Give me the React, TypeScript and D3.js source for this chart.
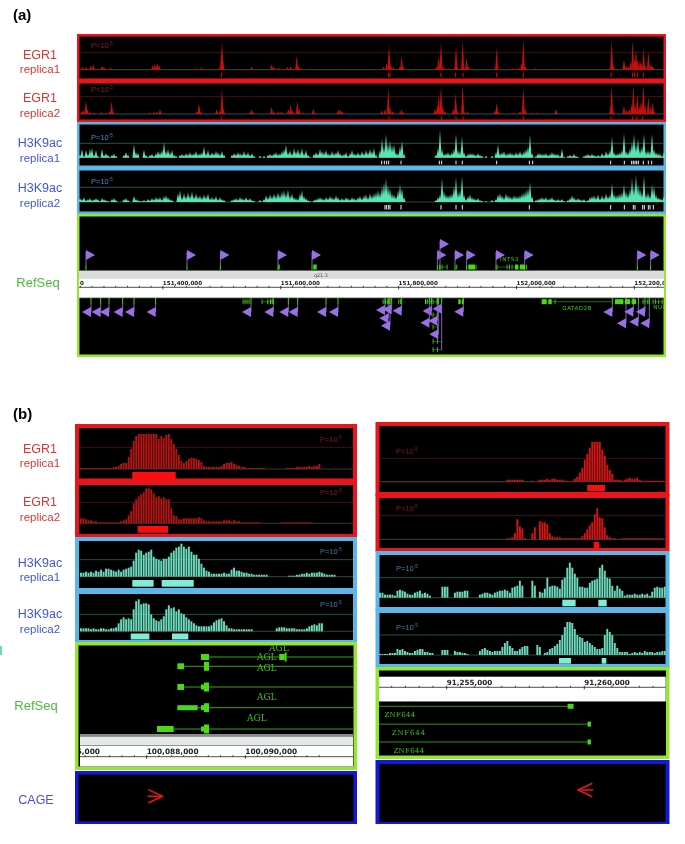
import * as d3 from "d3";

// ---- colours
const RED = "#e8171b";
const SKY = "#5cb6ea";
const LIME = "#94e62e";
const DEEP = "#1616d8";
const MINT = "#5ae4b6";
const BAR_MINT = "#6cd8bc";
const GENE = "#49d916";
const FLAG = "#9a6fe6";

// ---- panel (a): peaks are [bin, score], one bin is about 567 bp
const A_EGR1: number[][] = [
  [248, 8], [258, 8], [272, 12], [280, 16], [306, 12], [312, 8], [332, 6], [458, 14], [465, 18], [472, 20], [478, 14],
  [590, 4], [605, 6], [658, 6], [664, 50], [666, 88], [669, 30], [755, 8], [815, 16], [822, 8], [835, 6], [862, 8],
  [872, 10], [890, 42], [896, 10], [905, 4], [935, 3], [1015, 2], [1150, 8], [1160, 20], [1167, 76], [1172, 14],
  [1180, 8], [1200, 10], [1205, 40], [1210, 8], [1310, 8], [1316, 38], [1323, 84], [1330, 8], [1345, 4], [1365, 6],
  [1368, 70], [1372, 8], [1385, 6], [1388, 88], [1392, 8], [1400, 34], [1405, 10], [1485, 4], [1490, 66], [1494, 4],
  [1540, 4], [1555, 6], [1565, 20], [1570, 90], [1576, 10], [1605, 4], [1665, 2], [1675, 2], [1832, 8], [1835, 88],
  [1840, 12], [1872, 32], [1878, 12], [1885, 10], [1892, 24], [1898, 88], [1904, 34], [1908, 60], [1913, 30],
  [1920, 30], [1925, 20], [1931, 62], [1936, 12], [1945, 54], [1953, 18], [1958, 10],
];
const A_EGR2: number[][] = [
  [245, 8], [250, 12], [258, 40], [262, 14], [270, 6], [282, 4], [305, 5], [320, 4], [330, 10], [335, 38], [340, 6],
  [450, 4], [462, 6], [470, 6], [480, 14], [590, 8], [597, 32], [603, 6], [650, 14], [660, 10], [666, 78], [670, 18],
  [750, 6], [755, 14], [760, 4], [815, 22], [822, 6], [835, 6], [845, 6], [865, 14], [872, 28], [878, 10], [892, 38],
  [898, 14], [910, 4], [940, 16], [945, 4], [1015, 14], [1022, 12], [1028, 5], [1145, 10], [1155, 14], [1165, 78],
  [1170, 20], [1178, 8], [1200, 6], [1205, 14], [1210, 4], [1305, 14], [1312, 28], [1316, 58], [1323, 87], [1328, 24],
  [1335, 8], [1360, 14], [1367, 62], [1372, 10], [1388, 88], [1392, 8], [1403, 6], [1485, 10], [1490, 34], [1496, 6],
  [1540, 4], [1560, 8], [1570, 78], [1576, 14], [1595, 4], [1610, 4], [1668, 14], [1832, 22], [1835, 88], [1840, 10],
  [1872, 24], [1880, 12], [1888, 14], [1895, 30], [1900, 88], [1905, 30], [1912, 60], [1918, 24], [1923, 40],
  [1930, 90], [1935, 30], [1945, 52], [1952, 22], [1958, 34], [1962, 10],
];
const A_EGR1_CALLS = [665, 1165, 1170, 1323, 1367, 1389, 1490, 1570, 1833, 1898, 1904, 1913, 1931];
const A_EGR2_CALLS = [665, 1167, 1324, 1368, 1389, 1570, 1833, 1898, 1910, 1928];
const A_H3_CALLS1 = [1145, 1153, 1160, 1166, 1203, 1318, 1325, 1368, 1387, 1490, 1588, 1598, 1832, 1873, 1895, 1900, 1905, 1910, 1915, 1930, 1945, 1955];
const A_H3_CALLS2 = [1155, 1160, 1166, 1170, 1203, 1323, 1368, 1387, 1588, 1832, 1873, 1900, 1905, 1928, 1933, 1945, 1950, 1960];

// one value every 6 bins from bin 240
const A_H3K1 = [
  3, 9, 2, 8, 4, 9, 10, 3, 8, 2, 0, 9, 3, 5, 3, 1, 3, 4, 2, 0, 0, 0, 3, 6, 3, 0, 0, 14, 6, 5,
  0, 0, 8, 3, 1, 3, 4, 2, 5, 7, 6, 8, 16, 7, 9, 6, 8, 3, 2, 0, 3, 4, 3, 5, 4, 6, 4, 5, 7, 4,
  5, 6, 12, 5, 8, 4, 6, 5, 7, 6, 4, 7, 3, 0, 0, 0, 3, 5, 4, 6, 5, 4, 7, 4, 6, 3, 5, 2, 0, 0,
  2, 0, 2, 0, 3, 4, 3, 5, 6, 4, 5, 7, 9, 14, 6, 8, 5, 10, 7, 9, 6, 10, 5, 8, 3, 1, 0, 4, 6, 5,
  9, 7, 6, 8, 5, 4, 7, 5, 6, 8, 5, 3, 4, 6, 2, 5, 8, 5, 4, 6, 4, 7, 5, 8, 6, 9, 7, 10, 3, 0,
  8, 20, 12, 25, 15, 18, 13, 14, 6, 5, 12, 18, 4, 0, 0, 0, 0, 0, 0, 0, 0, 0, 0, 0, 0, 0, 0, 0, 3, 10,
  29, 9, 4, 5, 6, 4, 6, 9, 25, 8, 7, 22, 6, 2, 4, 5, 5, 4, 3, 5, 3, 2, 0, 2, 0, 0, 2, 0, 6, 14,
  5, 6, 7, 4, 5, 6, 5, 4, 6, 5, 7, 5, 7, 9, 12, 24, 5, 0, 2, 5, 5, 4, 4, 5, 3, 4, 6, 5, 4, 4,
  2, 9, 1, 0, 2, 3, 2, 4, 2, 1, 0, 0, 2, 3, 4, 3, 4, 3, 2, 3, 2, 5, 3, 7, 5, 8, 22, 6, 4, 5,
  6, 8, 26, 7, 6, 10, 17, 25, 14, 20, 9, 12, 25, 7, 8, 7, 25, 9, 6, 5, 4, 2, 6,
];
const A_H3K2 = [
  4, 3, 5, 2, 3, 4, 2, 3, 4, 3, 1, 4, 3, 2, 1, 0, 3, 4, 2, 0, 0, 0, 3, 4, 2, 0, 0, 6, 3, 2,
  1, 1, 2, 1, 3, 2, 4, 3, 5, 4, 5, 3, 6, 7, 5, 3, 2, 0, 0, 9, 12, 5, 9, 6, 10, 7, 11, 6, 9, 6,
  7, 5, 8, 6, 9, 4, 5, 4, 6, 3, 5, 3, 2, 0, 0, 0, 2, 3, 4, 3, 5, 4, 3, 5, 3, 4, 2, 1, 0, 0,
  2, 0, 3, 7, 5, 8, 6, 9, 7, 10, 8, 11, 12, 9, 13, 7, 9, 5, 4, 3, 9, 12, 6, 4, 2, 1, 0, 2, 3, 4,
  5, 4, 3, 5, 4, 6, 5, 4, 7, 5, 3, 4, 3, 5, 4, 3, 5, 4, 3, 5, 6, 4, 7, 8, 5, 9, 7, 9, 10, 12,
  10, 16, 20, 24, 17, 14, 9, 8, 6, 12, 18, 14, 5, 0, 0, 0, 0, 0, 0, 0, 0, 0, 0, 0, 0, 0, 0, 0, 2, 5,
  8, 24, 11, 8, 7, 8, 9, 16, 25, 10, 12, 26, 8, 3, 6, 8, 5, 4, 3, 4, 2, 1, 0, 1, 0, 0, 2, 0, 3, 8,
  9, 7, 5, 9, 7, 6, 5, 7, 6, 6, 7, 9, 10, 12, 14, 20, 6, 0, 2, 3, 4, 5, 4, 5, 3, 4, 5, 3, 2, 3,
  2, 3, 1, 0, 2, 4, 7, 5, 3, 4, 3, 2, 3, 1, 2, 5, 6, 7, 5, 8, 4, 7, 5, 9, 6, 8, 19, 9, 7, 8,
  9, 10, 18, 11, 9, 14, 24, 16, 28, 18, 14, 10, 27, 8, 10, 7, 18, 16, 8, 5, 4, 3, 6,
];

// genes in panel (a): start, end and exons in bins, lane above or below the ruler
const A_UP_FLAGS: number[][] = [
  [258, 0], [561, 0], [661, 0], [834, 0], [936, 0], [1312, 0], [1320, 1], [1365, 0], [1400, 0], [1488, 0], [1574, 0], [1912, 0], [1952, 0],
];
const A_DOWN_FLAGS: number[][] = [
  [273, 0.86], [302, 0.86], [327, 0.86], [368, 0.86], [402, 0.86], [467, 0.86], [753, 0.86], [820, 0.86], [865, 0.86],
  [893, 0.86], [978, 0.86], [1014, 0.86], [1155, 0.69], [1165, 1.38], [1170, 2], [1175, 0.63], [1205, 0.75], [1295, 0.78],
  [1288, 1.75], [1312, 1.58], [1325, 0.58], [1315, 2.72], [1390, 0.83], [1837, 0.86], [1878, 1.8], [1900, 0.83],
  [1915, 1.67], [1935, 0.83], [1948, 1.8],
];
const A_UP_GENES: { span: number[]; exons: number[][] }[] = [
  { span: [835, 840], exons: [[835, 839]] },
  { span: [940, 950], exons: [[940, 950]] },
  { span: [1318, 1342], exons: [[1318, 1320], [1325, 1327], [1340, 1342]] },
  { span: [1369, 1371], exons: [[1369, 1371]] },
  { span: [1405, 1428], exons: [[1405, 1425], [1427, 1429]] },
  { span: [1490, 1580], exons: [[1490, 1492], [1520, 1522], [1527, 1529], [1535, 1537], [1545, 1555], [1560, 1575], [1578, 1580]] },
];
const A_DOWN_GENES: { span: number[]; lane: number; exons: number[][] }[] = [
  { span: [728, 748], lane: 0, exons: [[728, 730], [734, 736], [740, 742], [746, 748]] },
  { span: [785, 820], lane: 0, exons: [[785, 787], [802, 805], [810, 814], [817, 820]] },
  { span: [1148, 1170], lane: 0, exons: [[1148, 1150], [1155, 1157], [1162, 1164], [1168, 1170]] },
  { span: [1195, 1202], lane: 0, exons: [[1195, 1197], [1200, 1202]] },
  { span: [1275, 1295], lane: 0, exons: [[1275, 1278], [1280, 1283], [1292, 1295]] },
  { span: [1298, 1312], lane: 0, exons: [[1298, 1300], [1310, 1312]] },
  { span: [1375, 1390], lane: 0, exons: [[1375, 1382], [1386, 1390]] },
  { span: [1625, 1835], lane: 0, exons: [[1625, 1640], [1645, 1655], [1664, 1666]] },
  { span: [1845, 1910], lane: 0, exons: [[1845, 1870], [1875, 1890], [1895, 1908]] },
  { span: [1925, 1945], lane: 0, exons: [[1928, 1930], [1942, 1945]] },
  { span: [1958, 1990], lane: 0, exons: [[1958, 1960], [1965, 1967], [1975, 1977], [1985, 1987]] },
  { span: [1298, 1312], lane: 1.1, exons: [[1298, 1299], [1311, 1312]] },
  { span: [1298, 1312], lane: 2.1, exons: [[1298, 1299], [1311, 1312]] },
  { span: [1298, 1325], lane: 3.3, exons: [[1298, 1299], [1311, 1312]] },
  { span: [1298, 1325], lane: 4, exons: [[1298, 1299], [1311, 1312]] },
];
const A_TEXTS: { label: string; bin: number; lane: number }[] = [
  { label: "INTS3", bin: 1500, lane: -3.5 },
  { label: "GATAD2B", bin: 1687, lane: 0.53 },
  { label: "NUP", bin: 1960, lane: 0.5 },
];

// ---- panel (b) left: heights, one bar every 2.5 px of window
const BL_EGR1 = [
  1, 1, 1, 1, 1, 1, 1, 1, 1, 1, 1, 1, 1, 2, 2, 3, 5, 6, 6, 12, 20, 28, 33, 35, 35, 35, 35, 35, 35, 35, 35, 30, 33, 31,
  34, 35, 30, 25, 20, 14, 8, 6, 8, 10, 11, 11, 10, 9, 7, 3, 2, 2, 2, 2, 2, 2, 3, 5, 6, 6, 7, 5, 4, 3, 2, 2, 1, 1, 1, 1,
  1, 1, 1, 1, 0, 0, 0, 0, 0, 0, 0, 0, 1, 1, 1, 1, 2, 2, 2, 2, 2, 3, 2, 3, 3, 5,
];
const BL_EGR2 = [
  5, 5, 4, 3, 3, 2, 2, 1, 1, 1, 1, 1, 1, 1, 1, 1, 2, 3, 4, 8, 12, 20, 24, 27, 29, 31, 35, 35, 34, 30, 26, 27, 25, 26,
  24, 24, 15, 8, 7, 4, 4, 5, 5, 5, 5, 5, 5, 6, 5, 3, 2, 2, 2, 2, 2, 2, 2, 3, 3, 3, 2, 3, 2, 2, 1, 1, 1, 1, 1, 1, 1, 1,
  0, 0, 0, 0, 0, 0, 0, 0, 1, 1, 1, 1, 1, 1, 1, 1, 1, 1, 1, 1, 1,
];
const BL_H3K1 = [
  4, 4, 5, 4, 5, 4, 6, 5, 7, 5, 8, 8, 7, 6, 5, 7, 5, 7, 8, 9, 10, 16, 24, 27, 26, 22, 24, 25, 27, 20, 18, 17, 16, 18,
  18, 20, 24, 26, 29, 30, 33, 30, 28, 30, 25, 22, 22, 18, 13, 9, 6, 5, 3, 3, 3, 3, 3, 4, 3, 3, 7, 9, 6, 6, 5, 4, 4, 3,
  3, 2, 2, 2, 2, 2, 2, 0, 0, 0, 0, 0, 0, 0, 0, 1, 1, 1, 2, 2, 3, 3, 4, 3, 4, 4, 4, 5, 4, 3, 2, 2, 2, 2,
];
const BL_H3K2 = [
  3, 3, 3, 3, 2, 3, 2, 2, 3, 3, 2, 2, 3, 3, 4, 8, 12, 14, 12, 13, 12, 22, 30, 32, 27, 28, 28, 27, 17, 13, 11, 10, 12,
  15, 22, 26, 23, 24, 20, 22, 18, 17, 14, 12, 10, 8, 6, 5, 5, 5, 5, 5, 6, 9, 11, 12, 13, 10, 6, 3, 3, 2, 2, 2, 2, 2, 2, 2, 2,
  0, 0, 0, 0, 0, 0, 0, 0, 0, 3, 4, 4, 4, 3, 3, 3, 3, 2, 2, 2, 2, 3, 5, 6, 7, 6, 8, 8,
];

// ---- panel (b) right
const BR_EGR1 = [
  0, 0, 0, 0, 0, 0, 0, 0, 0, 0, 0, 0, 0, 0, 0, 0, 0, 0, 0, 0, 0, 0, 0, 0, 0, 0, 0, 0, 0, 0, 0, 0, 0, 0, 0, 0, 0, 0, 0, 0,
  0, 0, 0, 0, 0, 0, 0, 0, 0, 0, 0, 2, 2, 2, 2, 2, 2, 2, 0, 0, 0, 1, 0, 1, 2, 2, 2, 3, 2, 3, 3, 2, 2, 2, 1, 1, 0, 1, 3, 5,
  9, 14, 22, 28, 34, 40, 40, 40, 40, 32, 26, 17, 12, 8, 2, 2, 2, 1, 2, 3, 4, 3, 3, 4, 2, 1, 1, 1, 1, 1, 1, 1, 1, 1,
];
const BR_EGR2 = [
  0, 0, 0, 0, 0, 0, 0, 0, 0, 0, 0, 0, 0, 0, 0, 0, 0, 0, 0, 0, 0, 0, 0, 0, 0, 0, 0, 0, 0, 0, 0, 0, 0, 0, 0, 0, 0, 0, 0, 0,
  0, 0, 0, 0, 0, 0, 0, 0, 0, 0, 0, 1, 1, 2, 6, 20, 13, 11, 1, 0, 0, 6, 12, 0, 18, 17, 17, 15, 6, 3, 2, 2, 2, 1, 1, 1, 1, 1,
  1, 1, 1, 3, 6, 10, 14, 17, 25, 31, 22, 21, 12, 4, 2, 1, 1, 0, 0, 1, 1, 1, 1, 1, 1, 1, 1, 1, 1, 1, 1, 1, 1, 1, 1, 1,
];
const BR_H3K1 = [
  5, 5, 3, 3, 3, 3, 2, 7, 8, 7, 6, 4, 3, 3, 5, 6, 7, 4, 5, 4, 2, 0, 0, 0, 0, 11, 11, 11, 0, 0, 5, 6, 6, 6, 7, 7, 0, 0, 0, 0,
  3, 4, 5, 5, 4, 3, 5, 6, 7, 7, 8, 7, 5, 10, 11, 12, 17, 12, 0, 0, 0, 17, 12, 0, 6, 5, 9, 20, 11, 12, 12, 11, 9, 18, 20,
  30, 35, 30, 24, 20, 11, 11, 10, 10, 15, 17, 18, 19, 30, 33, 27, 20, 19, 12, 7, 12, 9, 7, 2, 3, 3, 3, 4, 3, 3, 4, 3, 4, 2, 6, 10, 11, 10, 10, 11,
];
const BR_H3K2 = [
  1, 1, 1, 1, 2, 2, 2, 6, 5, 6, 4, 3, 2, 2, 4, 5, 6, 6, 3, 3, 2, 2, 0, 0, 0, 5, 5, 5, 0, 0, 4, 3, 3, 2, 2, 1, 0, 0, 0, 0,
  4, 6, 7, 5, 4, 3, 4, 4, 4, 8, 12, 14, 9, 7, 4, 4, 6, 8, 9, 9, 0, 0, 0, 10, 8, 0, 2, 3, 6, 7, 9, 11, 15, 20, 28, 33, 33,
  32, 26, 20, 18, 17, 13, 14, 12, 10, 8, 6, 6, 7, 20, 26, 23, 20, 12, 7, 3, 3, 3, 3, 1, 2, 3, 2, 3, 2, 4, 3, 3, 3, 2, 3, 3, 4, 4, 9, 9,
];

// genes in panel (b), genomic coordinates; exons are [start, end, thick]
const AGL_GENES: { exons: number[][]; lane: number }[] = [
  { exons: [[100089101, 100089264, 6], [100090689, 100090800, 6], [100090800, 100090838, 9]], lane: 0 },
  { exons: [[100088622, 100088757, 6], [100089162, 100089264, 9]], lane: 1 },
  { exons: [[100088622, 100088757, 6], [100089101, 100089162, 5], [100089162, 100089264, 9]], lane: 2 },
  { exons: [[100088622, 100089034, 5], [100089101, 100089162, 5], [100089162, 100089264, 9]], lane: 3 },
  { exons: [[100088209, 100088547, 6], [100089101, 100089162, 5], [100089162, 100089264, 9]], lane: 4 },
];
const AGL_LABELS: number[][] = [
  [100090480, -0.93],
  [100090236, 0],
  [100090236, 1.08],
  [100090236, 2.48],
  [100090034, 3.5],
];
const ZNF_GENES: { exonStart: number; exonEnd: number; lane: number; labelAt: number }[] = [
  { exonStart: 91259392, exonEnd: 91259610, lane: 0, labelAt: 91252737 },
  { exonStart: 91260118, exonEnd: 91260240, lane: 1, labelAt: 91253004 },
  { exonStart: 91260118, exonEnd: 91260240, lane: 2, labelAt: 91253064 },
];
const CAGE_LEFT = 100088318;
const CAGE_RIGHT = 91259780;

const fmt = d3.format(",");
const binX = d3.scaleLinear().domain([234, 1998]).range([78, 666]);
const genomeA = d3.scaleLinear().domain([151256000, 152253000]).range([78, 665.6]);
const genomeL = d3.scaleLinear().domain([100088000, 100090000]).range([146.7, 245.3]);
const genomeR = d3.scaleLinear().domain([91255000, 91260000]).range([446.7, 584.3]);
const laneDown = d3.scaleLinear().domain([0, 4]).range([301.7, 349.7]);
const spikeLine = d3.line();

function Frame({ x0, y0, x1, y1, color, sw }: any) {
  return <rect x={x0 + sw / 2} y={y0 + sw / 2} width={x1 - x0 - sw} height={y1 - y0 - sw} fill="#000" stroke={color} strokeWidth={sw} />;
}

function PValue({ x, y, color }: any) {
  return (
    <text x={x} y={y} fill={color} fontSize={7.5} fontFamily="Liberation Sans" dominantBaseline="middle">
      P=10<tspan fontSize={4.5} dy={-2}>-5</tspan>
    </text>
  );
}

// panel (a) sparse peaks
function PeakTrack({ peaks, calls, baseline, threshold, thresholdColor, color, callY }: any) {
  const y = d3.scaleLinear().domain([0, 52]).range([baseline, threshold]);
  return (
    <g>
      <line x1={79} x2={664} y1={threshold} y2={threshold} stroke={thresholdColor} strokeWidth={0.8} />
      <line x1={79} x2={664} y1={baseline} y2={baseline} stroke="#444" strokeWidth={1} />
      {peaks.map((p: number[], i: number) => (
        <path key={i} d={spikeLine([[binX(p[0] - 4.5), baseline], [binX(p[0]), y(p[1])], [binX(p[0] + 4.5), baseline]]) as string} fill={color} />
      ))}
      {calls.map((c: number, i: number) => (
        <line key={i} x1={binX(c)} x2={binX(c)} y1={callY[0]} y2={callY[1]} stroke={color} strokeWidth={1} />
      ))}
    </g>
  );
}

// panel (a) dense H3K9ac signal
function DenseTrack({ values, calls, baseline, threshold, callY, showBase }: any) {
  const y = d3.scaleLinear().domain([0, 15]).range([baseline, threshold]);
  const x = (i: number) => binX(240 + i * 6);
  return (
    <g>
      <line x1={79} x2={664} y1={threshold} y2={threshold} stroke="#1d6e58" strokeWidth={0.8} />
      {showBase && <line x1={79} x2={664} y1={baseline} y2={baseline} stroke="#4a5a55" strokeWidth={0.8} />}
      {values.map((v: number, i: number) =>
        v > 0 ? <path key={i} d={spikeLine([[x(i) - 1.6, baseline], [x(i), y(v)], [x(i) + 1.6, baseline]]) as string} fill={MINT} /> : null
      )}
      {calls.map((c: number, i: number) => (
        <line key={i} x1={binX(c)} x2={binX(c)} y1={callY[0]} y2={callY[1]} stroke="#e8f8f0" strokeWidth={1} />
      ))}
    </g>
  );
}

// panel (b) bars
function BarTrack({ values, n, x0, x1, baseline, threshold, color, thresholdColor, baseColor }: any) {
  const x = d3.scaleBand<number>().domain(d3.range(n)).range([x0, x1]).paddingInner(0.22);
  const y = d3.scaleLinear().domain([0, baseline - threshold]).range([baseline, threshold]);
  return (
    <g>
      <line x1={x0} x2={x1} y1={threshold} y2={threshold} stroke={thresholdColor} strokeWidth={0.8} />
      <line x1={x0} x2={x1} y1={baseline} y2={baseline} stroke={baseColor} strokeWidth={0.8} />
      {values.map((v: number, i: number) =>
        v > 0 ? <rect key={i} x={x(i)} y={y(v)} width={x.bandwidth()} height={baseline - y(v)} fill={color} /> : null
      )}
    </g>
  );
}

function Ruler({ scale, major, minor, lineY, labelY, fontSize, x0, x1 }: any) {
  const [d0, d1] = scale.domain();
  const start = Math.ceil(d0 / minor) * minor;
  const ticks = d3.range(start, d1 + 1, minor);
  return (
    <g>
      <line x1={x0} x2={x1} y1={lineY} y2={lineY} stroke="#222" strokeWidth={0.8} />
      {ticks.map((t: number) => {
        const isMajor = t % major === 0;
        return <line key={t} x1={scale(t)} x2={scale(t)} y1={lineY - 1.5} y2={lineY + (isMajor ? 2 : 0)} stroke="#111" strokeWidth={0.8} />;
      })}
      {ticks.filter((t: number) => t % major === 0).map((t: number) => (
        <text key={t} x={scale(t)} y={labelY} fontSize={fontSize} fontWeight="bold" fontFamily="DejaVu Sans" fill="#222">{fmt(t)}</text>
      ))}
    </g>
  );
}

function GeneA({ span, exons, y }: any) {
  return (
    <g>
      <line x1={binX(span[0])} x2={binX(span[1])} y1={y} y2={y} stroke={GENE} strokeWidth={0.6} opacity={0.8} />
      {exons.map((e: number[], i: number) => (
        <rect key={i} x={binX(e[0])} y={y - 2.5} width={Math.max(binX(e[1]) - binX(e[0]), 0.8)} height={5} fill={GENE} />
      ))}
    </g>
  );
}

function Replica({ name, rep, y, color }: any) {
  return (
    <g fill={color} textAnchor="middle" fontFamily="Liberation Sans">
      <text x={40} y={y} fontSize={12.5}>{name}</text>
      <text x={40} y={y + 14.5} fontSize={11.5}>{rep}</text>
    </g>
  );
}

function Arrow({ tip, y, dir }: any) {
  const shaft = spikeLine([[tip - dir * 15, y], [tip, y]]) as string;
  const head = spikeLine([[tip - dir * 14, y - 6.7], [tip, y], [tip - dir * 14, y + 6.7]]) as string;
  return <g fill="none" stroke="#e8141a" strokeWidth={1.6}><path d={shaft} /><path d={head} /></g>;
}

export default function App() {
  const laneAGL = d3.scaleLinear().domain([0, 1, 2, 3, 4]).range([657, 666.3, 687, 707.7, 729]);
  const laneZNF = d3.scaleLinear().domain([0, 2]).range([706.3, 742]);
  return (
    <svg width={685} height={844} style={{ position: "absolute", left: 0, top: 0, background: "#fff" }}>
      <defs>
        <clipPath id="cl-ref"><rect x={80} y={645.5} width={273} height={121} /></clipPath>
        <clipPath id="cl-znf"><rect x={379} y={671} width={286.7} height={84} /></clipPath>
        <clipPath id="cl-a"><rect x={79} y={216} width={585} height={139} /></clipPath>
        <filter id="soft" x="0" y="0" width="100%" height="100%"><feGaussianBlur stdDeviation={0.35} /></filter>
      </defs>
      <g filter="url(#soft)">
      <text x={13} y={20} fontSize={15} fontWeight="bold" fontFamily="Liberation Sans">(a)</text>
      <text x={13} y={419} fontSize={15} fontWeight="bold" fontFamily="Liberation Sans">(b)</text>

      {/* (a) labels */}
      <Replica name="EGR1" rep="replica1" y={58.5} color="#e2332f" />
      <Replica name="EGR1" rep="replica2" y={102} color="#e2332f" />
      <Replica name="H3K9ac" rep="replica1" y={147} color="#3f56d8" />
      <Replica name="H3K9ac" rep="replica2" y={192} color="#3f56d8" />
      <text x={38} y={287} fontSize={13} fill="#4cbc3c" textAnchor="middle" fontFamily="Liberation Sans">RefSeq</text>

      {/* (a) tracks */}
      <Frame x0={77} y0={34} x1={666} y1={81} color={RED} sw={2.5} />
      <PeakTrack peaks={A_EGR1} calls={A_EGR1_CALLS} baseline={69.7} threshold={52.3} thresholdColor="#5a0c0c" color="#c81010" callY={[72.5, 77]} />
      <PValue x={91} y={46} color="#9a1b1b" />
      <Frame x0={77} y0={81} x1={666} y1={122} color={RED} sw={2.5} />
      <PeakTrack peaks={A_EGR2} calls={A_EGR2_CALLS} baseline={114} threshold={96.7} thresholdColor="#5a0c0c" color="#c81010" callY={[116.5, 120]} />
      <PValue x={91} y={90} color="#9a1b1b" />
      <Frame x0={77} y0={122} x1={666} y1={168} color={SKY} sw={2.5} />
      <DenseTrack values={A_H3K1} calls={A_H3_CALLS1} baseline={157.7} threshold={143.3} callY={[160.7, 164.3]} />
      <PValue x={91} y={138} color="#4a8cc8" />
      <Frame x0={77} y0={168} x1={666} y1={214} color={SKY} sw={2.5} />
      <DenseTrack values={A_H3K2} calls={A_H3_CALLS2} baseline={202} threshold={187.3} callY={[205, 209.5]} showBase />
      <PValue x={91} y={182} color="#4a8cc8" />

      {/* (a) RefSeq */}
      <Frame x0={77} y0={214} x1={666} y1={357} color={LIME} sw={2.5} />
      <g clipPath="url(#cl-a)">
        <rect x={79} y={270.5} width={586} height={9} fill="#d9dddc" />
        <rect x={79} y={270} width={586} height={1} fill="#666" />
        <rect x={79} y={279} width={586} height={19} fill="#fff" />
        <rect x={79} y={297.5} width={586} height={0.8} fill="#777" />
        <Ruler scale={genomeA} major={200000} minor={20000} lineY={287.3} labelY={285} fontSize={5.6} x0={79} x1={665} />
        <text x={80} y={285} fontSize={5.6} fontWeight="bold" fontFamily="DejaVu Sans" fill="#222">0</text>
        <text x={314} y={277} fontSize={4.8} fontFamily="DejaVu Sans" fill="#444">q21.3</text>
        {A_UP_GENES.map((g, i) => <GeneA key={i} span={g.span} exons={g.exons} y={267} />)}
        {A_DOWN_GENES.map((g, i) => <GeneA key={i} span={g.span} exons={g.exons} y={laneDown(g.lane)} />)}
        {A_UP_FLAGS.map((f, i) => {
          const x = binX(f[0]);
          const y = f[1] === 0 ? 255 : 244;
          return (
            <g key={i}>
              <line x1={x} x2={x} y1={y - 3} y2={265} stroke="#7d62b8" strokeWidth={1} />
              <line x1={x} x2={x} y1={265} y2={270} stroke={GENE} strokeWidth={1} />
              <path d={spikeLine([[x, y - 5], [x + 9, y], [x, y + 5]]) + "Z"} fill={FLAG} />
            </g>
          );
        })}
        {A_DOWN_FLAGS.map((f, i) => {
          const x = binX(f[0]);
          const y = laneDown(f[1]);
          const tail = f[0] === 1325 ? laneDown(4.05) : y;
          return (
            <g key={i}>
              <line x1={x} x2={x} y1={298} y2={304} stroke={GENE} strokeWidth={1} />
              <line x1={x} x2={x} y1={304} y2={tail} stroke="#7d62b8" strokeWidth={1} />
              <path d={spikeLine([[x, y - 5], [x - 9, y], [x, y + 5]]) + "Z"} fill={FLAG} />
            </g>
          );
        })}
        {A_TEXTS.map((t) => (
          <text key={t.label} x={binX(t.bin)} y={laneDown(t.lane)} fontSize={5.6} letterSpacing={0.5} fontFamily="DejaVu Sans" fill="#3ccf16" dominantBaseline="middle">{t.label}</text>
        ))}
      </g>

      {/* (b) labels */}
      <Replica name="EGR1" rep="replica1" y={452.5} color="#e2332f" />
      <Replica name="EGR1" rep="replica2" y={506} color="#e2332f" />
      <Replica name="H3K9ac" rep="replica1" y={566.5} color="#3f56d8" />
      <Replica name="H3K9ac" rep="replica2" y={618} color="#3f56d8" />
      <text x={36} y={710} fontSize={13} fill="#4cbc3c" textAnchor="middle" fontFamily="Liberation Sans">RefSeq</text>
      <text x={36} y={804} fontSize={12.5} fill="#4a4ed8" textAnchor="middle" fontFamily="Liberation Sans">CAGE</text>

      {/* (b) left column */}
      <Frame x0={75} y0={424} x1={357} y1={482.5} color={RED} sw={4} />
      <BarTrack values={BL_EGR1} n={109} x0={80} x1={353} baseline={469} threshold={447.3} color="#b01212" thresholdColor="#5a0c0c" baseColor="#444" />
      <rect x={132.3} y={472} width={43.4} height={7} fill="#ff1010" />
      <PValue x={320} y={440} color="#8e1616" />
      <Frame x0={75} y0={481} x1={357} y1={538} color={RED} sw={4} />
      <BarTrack values={BL_EGR2} n={109} x0={80} x1={353} baseline={523.3} threshold={502.3} color="#b01212" thresholdColor="#5a0c0c" baseColor="#444" />
      <rect x={137.7} y={526} width={30.3} height={6.7} fill="#ff1010" />
      <PValue x={320} y={493} color="#8e1616" />
      <Frame x0={75} y0={537} x1={357} y1={592} color={SKY} sw={4} />
      <BarTrack values={BL_H3K1} n={109} x0={80} x1={353} baseline={576.7} threshold={559.7} color={BAR_MINT} thresholdColor="#1d6e58" baseColor="#3f5a52" />
      <rect x={132.3} y={580} width={21.3} height={6.7} fill="#80ecd8" />
      <rect x={161.7} y={580} width={32} height={6.7} fill="#80ecd8" />
      <PValue x={320} y={552} color="#3f7db0" />
      <Frame x0={75} y0={590} x1={357} y1={644} color={SKY} sw={4} />
      <BarTrack values={BL_H3K2} n={109} x0={80} x1={353} baseline={631.3} threshold={614.3} color={BAR_MINT} thresholdColor="#1d6e58" baseColor="#3f5a52" />
      <rect x={130.7} y={633.5} width={18.7} height={6} fill="#80ecd8" />
      <rect x={172} y={633.5} width={16.3} height={6} fill="#80ecd8" />
      <PValue x={320} y={605} color="#3f7db0" />

      <Frame x0={75} y0={642} x1={357} y1={770} color={LIME} sw={3.5} />
      <g clipPath="url(#cl-ref)">
        <rect x={80} y={734} width={273} height={2.5} fill="#8a8a8a" />
        <rect x={80} y={736.5} width={273} height={9} fill="#e4e8e8" />
        <rect x={80} y={745} width={273} height={22} fill="#fff" />
        <rect x={80} y={745} width={273} height={0.8} fill="#777" />
        <Ruler scale={genomeL.copy().domain([100085000, 100091600]).range([genomeL(100085000), genomeL(100091600)])} major={2000} minor={250} lineY={756.7} labelY={754} fontSize={7.4} x0={80} x1={353} />
        {AGL_GENES.map((g) => {
          const y = laneAGL(g.lane);
          return (
            <g key={g.lane}>
              <line x1={genomeL(g.exons[0][1])} x2={353} y1={y} y2={y} stroke="#3aa312" strokeWidth={1} />
              {g.exons.map((e, i) => (
                <rect key={i} x={genomeL(e[0])} y={y - e[2] / 2} width={genomeL(e[1]) - genomeL(e[0])} height={e[2]} fill={GENE} />
              ))}
            </g>
          );
        })}
        {AGL_LABELS.map((l, i) => (
          <text key={i} x={genomeL(l[0])} y={laneAGL(l[1]) + 3} fontSize={9} fontFamily="DejaVu Serif" fill="#3cc41a">AGL</text>
        ))}
      </g>

      <Frame x0={75} y0={771} x1={357} y1={825} color={DEEP} sw={3.5} />
      <Arrow tip={genomeL(CAGE_LEFT)} y={796.3} dir={1} />

      {/* (b) right column */}
      <Frame x0={375.5} y0={422} x1={669.5} y1={496} color={RED} sw={4} />
      <BarTrack values={BR_EGR1} n={115} x0={379} x1={665.7} baseline={481.7} threshold={458.3} color="#d01616" thresholdColor="#5a0c0c" baseColor="#555" />
      <rect x={587.3} y={485} width={17.7} height={6} fill="#ff1010" />
      <PValue x={396} y={452} color="#8e1616" />
      <Frame x0={375.5} y0={494} x1={669.5} y1={552} color={RED} sw={4} />
      <BarTrack values={BR_EGR2} n={115} x0={379} x1={665.7} baseline={539.3} threshold={515.7} color="#d01616" thresholdColor="#5a0c0c" baseColor="#555" />
      <rect x={593.7} y={542} width={5.3} height={6} fill="#ff1010" />
      <PValue x={396} y={509} color="#8e1616" />
      <Frame x0={375.5} y0={551} x1={669.5} y1={611} color={SKY} sw={4} />
      <BarTrack values={BR_H3K1} n={115} x0={379} x1={665.7} baseline={597.7} threshold={577.7} color={BAR_MINT} thresholdColor="#1d6e58" baseColor="#3f5a52" />
      <rect x={562.3} y={599.7} width={13.3} height={6.6} fill="#80ecd8" />
      <rect x={598.3} y={599.7} width={8.4} height={6.6} fill="#80ecd8" />
      <PValue x={396} y={569} color="#3f7db0" />
      <Frame x0={375.5} y0={609} x1={669.5} y1={668} color={SKY} sw={4} />
      <BarTrack values={BR_H3K2} n={115} x0={379} x1={665.7} baseline={655} threshold={635} color={BAR_MINT} thresholdColor="#1d6e58" baseColor="#3f5a52" />
      <rect x={559} y={658} width={12} height={5.7} fill="#80ecd8" />
      <rect x={601.7} y={658} width={4.6} height={5.7} fill="#80ecd8" />
      <PValue x={396} y={628} color="#3f7db0" />

      <Frame x0={375.5} y0={667} x1={669.5} y1={759} color={LIME} sw={3.5} />
      <g clipPath="url(#cl-znf)">
        <rect x={379} y={676.7} width={287} height={24.3} fill="#fff" />
        <rect x={379} y={701} width={287} height={1} fill="#777" />
        <Ruler scale={genomeR.copy().domain([91252000, 91263000]).range([genomeR(91252000), genomeR(91263000)])} major={5000} minor={500} lineY={687.3} labelY={684.5} fontSize={7.2} x0={379} x1={666} />
        {ZNF_GENES.map((g) => {
          const y = laneZNF(g.lane);
          return (
            <g key={g.lane}>
              <line x1={379} x2={genomeR(g.exonStart)} y1={y} y2={y} stroke="#3aa312" strokeWidth={0.9} />
              <rect x={genomeR(g.exonStart)} y={y - 2.5} width={genomeR(g.exonEnd) - genomeR(g.exonStart)} height={5} fill={GENE} />
              <text x={genomeR(g.labelAt)} y={y + 10.5} fontSize={7} letterSpacing={g.lane === 1 ? 0.8 : 0.3} fontFamily="DejaVu Serif" fill="#3cc41a">ZNF644</text>
            </g>
          );
        })}
      </g>

      <Frame x0={375.5} y0={760} x1={669.5} y1={826} color={DEEP} sw={4} />
      <Arrow tip={genomeR(CAGE_RIGHT)} y={790} dir={-1} />
      </g>
    </svg>
  );
}
